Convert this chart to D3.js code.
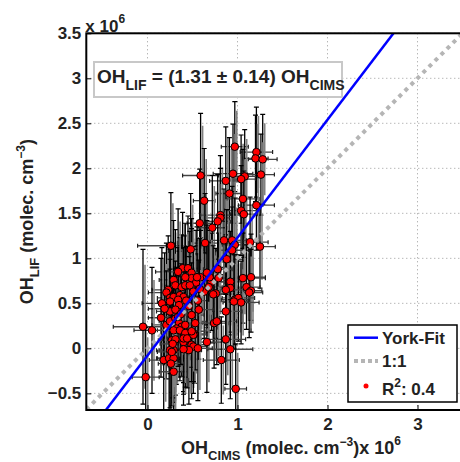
<!DOCTYPE html>
<html>
<head>
<meta charset="utf-8">
<script src="https://cdn.jsdelivr.net/npm/d3@7"></script>
<style>
body { margin: 0; background: #fff; }
text { font-family: "Liberation Sans", Arial, sans-serif; font-weight: bold; fill: #222; }
</style>
</head>
<body>
<div class="graphHolder"></div>
<script>
// OH_CIMS (x) and OH_LIF (y), units of 1e6 molec cm^-3
let ohCims = [
  0.97,1.21,1.20,1.28,0.59,0.95,1.08,1.04,0.87,1.26,
  0.63,0.91,1.06,1.21,0.58,0.81,0.81,0.78,0.72,1.04,
  1.07,0.26,0.48,0.64,0.85,0.94,0.97,0.94,1.14,1.25,
  0.88,0.39,0.45,0.49,0.29,0.49,0.54,0.59,0.66,0.79,
  0.71,1.06,1.15,0.92,0.92,1.10,1.15,1.13,0.23,0.21,
  0.31,0.38,0.42,0.47,0.63,0.76,0.25,0.29,0.36,0.40,
  0.34,0.56,0.16,0.25,0.35,0.97,1.01,1.04,0.96,0.87,
  0.25,0.31,0.34,0.42,0.55,0.69,0.78,0.66,0.73,0.68,
  0.87,0.46,0.51,0.58,0.43,0.19,0.15,0.21,0.25,0.31,
  0.35,0.38,0.32,0.40,0.29,0.52,0.74,0.77,-0.05,0.05,
  0.27,0.31,0.40,0.49,0.51,0.66,0.46,0.29,0.40,0.87,
  0.92,0.25,0.18,0.24,0.29,0.82,0.29,-0.02,0.98,0.28,
  0.36,0.42,0.34,0.42,0.40,0.44,0.27,0.26,0.51,0.37,
  0.57,0.49,0.53,0.49,0.56
];
let ohLif = [
  2.24,2.18,2.11,2.10,1.92,1.94,1.91,1.88,1.86,1.93,
  1.64,1.72,1.66,1.59,1.39,1.48,1.45,1.41,1.34,1.53,
  1.49,1.14,1.10,1.17,1.20,1.20,1.15,1.09,1.18,1.13,
  0.99,0.89,0.89,0.84,0.76,0.78,0.73,0.79,0.80,0.78,
  0.74,0.78,0.79,0.74,0.67,0.68,0.64,0.62,0.65,0.62,
  0.70,0.68,0.70,0.70,0.63,0.61,0.56,0.57,0.59,0.57,
  0.54,0.53,0.50,0.52,0.48,0.54,0.56,0.51,0.52,0.41,
  0.41,0.43,0.85,0.79,0.79,0.79,0.88,0.84,0.60,0.68,
  0.65,0.47,0.63,0.66,0.53,0.44,0.34,0.26,0.30,0.33,
  0.28,0.24,0.22,0.20,0.20,0.16,0.28,0.30,0.24,0.20,
  0.09,0.10,0.07,0.04,0.02,0.07,-0.02,-0.02,-0.01,0.10,
  -0.01,-0.02,-0.13,-0.11,-0.11,-0.13,-0.26,-0.32,-0.45,0.05,
  0.20,0.17,0.35,0.26,0.11,0.11,-0.04,-0.17,0.15,0.38,
  0.43,0.37,0.28,0.19,0.00
];
let errCims = [
  0.15,0.18,0.14,0.16,0.20,0.22,0.14,0.16,0.18,0.15,
  0.12,0.15,0.18,0.20,0.14,0.22,0.15,0.14,0.16,0.18,
  0.15,0.37,0.14,0.18,0.30,0.16,0.14,0.18,0.20,0.17,
  0.18,0.12,0.15,0.14,0.16,0.12,0.15,0.18,0.14,0.20,
  0.15,0.25,0.16,0.14,0.18,0.15,0.12,0.15,0.18,0.20,
  0.14,0.16,0.15,0.12,0.18,0.15,0.14,0.12,0.15,0.13,
  0.16,0.15,0.22,0.14,0.13,0.15,0.18,0.20,0.16,0.18,
  0.15,0.14,0.25,0.15,0.20,0.14,0.16,0.15,0.18,0.15,
  0.20,0.14,0.16,0.15,0.12,0.18,0.14,0.16,0.12,0.15,
  0.14,0.16,0.13,0.15,0.18,0.14,0.16,0.22,0.33,0.20,
  0.15,0.14,0.16,0.18,0.15,0.20,0.14,0.16,0.15,0.22,
  0.25,0.15,0.16,0.14,0.18,0.20,0.16,0.15,0.12,0.14,
  0.15,0.14,0.16,0.14,0.18,0.15,0.16,0.14,0.15,0.13,
  0.16,0.14,0.18,0.15,0.16
];
let errLif = [
  0.50,0.50,0.48,0.50,0.69,0.55,0.52,0.49,0.60,0.45,
  0.58,0.62,0.55,0.50,0.60,0.66,0.55,0.52,0.58,0.50,
  0.48,0.59,0.62,0.55,0.57,0.60,0.52,0.48,0.50,0.46,
  0.55,0.62,0.58,0.60,0.66,0.55,0.58,0.52,0.57,0.50,
  0.54,0.50,0.48,0.56,0.52,0.47,0.46,0.50,0.60,0.55,
  0.62,0.58,0.55,0.60,0.52,0.50,0.58,0.60,0.64,0.55,
  0.58,0.52,0.62,0.58,0.60,0.50,0.48,0.46,0.52,0.55,
  0.58,0.54,0.70,0.60,0.56,0.52,0.55,0.58,0.54,0.50,
  0.52,0.55,0.50,0.56,0.60,0.62,0.66,0.60,0.58,0.56,
  0.60,0.55,0.62,0.58,0.60,0.55,0.50,0.48,0.86,0.70,
  0.58,0.62,0.55,0.60,0.52,0.56,0.60,0.58,0.62,0.50,
  0.55,0.64,0.58,0.62,0.60,0.48,0.62,0.55,0.50,0.60,
  0.56,0.60,0.55,0.58,0.62,0.55,0.60,0.58,0.52,0.56,
  0.55,0.58,0.52,0.56,0.58
];

let fitSlope = 1.31, fitIntercept = -0.08;
let xTicks = [0, 1, 2, 3];
let yTicks = [-0.5, 0, 0.5, 1, 1.5, 2, 2.5, 3, 3.5];
let xDomain = [-0.68, 3.5], yDomain = [-0.685, 3.5];

let w = 460, h = 462,
  pLeft = 86.3, pRight = 462.5, pTop = 33.3, pBottom = 410;

let svg = d3.select(".graphHolder").append("svg")
  .attr("width", w).attr("height", h);

let x = d3.scaleLinear().domain(xDomain).range([pLeft, pRight]);
let y = d3.scaleLinear().domain(yDomain).range([pBottom, pTop]);

svg.append("clipPath").attr("id", "clip")
  .append("rect").attr("x", pLeft).attr("y", pTop)
  .attr("width", pRight - pLeft).attr("height", pBottom - pTop);

// dotted grid
let grid = svg.append("g").attr("stroke", "#999").attr("stroke-width", 1)
  .attr("stroke-dasharray", "1,3");
grid.selectAll(".gx").data(xTicks).enter().append("line")
  .attr("x1", d => x(d)).attr("x2", d => x(d)).attr("y1", pTop).attr("y2", pBottom);
grid.selectAll(".gy").data(yTicks).enter().append("line")
  .attr("y1", d => y(d)).attr("y2", d => y(d)).attr("x1", pLeft).attr("x2", pRight);

let plot = svg.append("g").attr("clip-path", "url(#clip)");
let pts = ohCims.map((d, i) => ({ x: d, y: ohLif[i], ex: errCims[i], ey: errLif[i] }));

// error bars
let eb = plot.append("g");
pts.forEach(p => {
  let px = x(p.x), py = y(p.y);
  let y0 = y(p.y - p.ey), y1 = y(p.y + p.ey);
  let x0 = x(p.x - p.ex), x1 = x(p.x + p.ex);
  eb.append("line").attr("x1", px + 2).attr("x2", px + 2).attr("y1", y(p.y - p.ey * 0.8)).attr("y2", y(p.y + p.ey * 0.8))
    .attr("stroke", "#808080").attr("stroke-width", 1.6);
  eb.append("line").attr("x1", x0).attr("x2", x1).attr("y1", py).attr("y2", py)
    .attr("stroke", "#444").attr("stroke-width", 1.3);
  eb.append("line").attr("x1", px).attr("x2", px).attr("y1", y0).attr("y2", y1)
    .attr("stroke", "#000").attr("stroke-width", 1.3);
  [y0, y1].forEach(c => eb.append("line").attr("x1", px - 2.5).attr("x2", px + 2.5)
    .attr("y1", c).attr("y2", c).attr("stroke", "#000").attr("stroke-width", 1.2));
  [x0, x1].forEach(c => eb.append("line").attr("x1", c).attr("x2", c)
    .attr("y1", py - 2).attr("y2", py + 2).attr("stroke", "#222").attr("stroke-width", 1.2));
});

plot.append("g").selectAll("circle").data(pts).enter().append("circle")
  .attr("cx", d => x(d.x)).attr("cy", d => y(d.y)).attr("r", 3.8)
  .attr("fill", "#ff0000").attr("stroke", "#000").attr("stroke-width", 1);

// 1:1 line
plot.append("line")
  .attr("x1", x(xDomain[0])).attr("y1", y(xDomain[0]))
  .attr("x2", x(3.6)).attr("y2", y(3.6))
  .attr("stroke", "#b5b5b5").attr("stroke-width", 4).attr("stroke-dasharray", "4,4.5");

// York fit
plot.append("line")
  .attr("x1", x(-1)).attr("y1", y(fitSlope * -1 + fitIntercept))
  .attr("x2", x(3)).attr("y2", y(fitSlope * 3 + fitIntercept))
  .attr("stroke", "#0000ff").attr("stroke-width", 2.5);

// axes
let fmt = d3.format("~g");
svg.append("g").attr("transform", "translate(0," + pBottom + ")")
  .call(d3.axisBottom(x).tickValues(xTicks).tickSize(-5).tickPadding(8).tickFormat(fmt))
  .call(g => g.select(".domain").remove())
  .call(g => g.selectAll("line").attr("stroke", "#000"))
  .call(g => g.selectAll("text").attr("font-size", 17).attr("font-family", null).style("fill", "#222"));
svg.append("g").attr("transform", "translate(" + pLeft + ",0)")
  .call(d3.axisLeft(y).tickValues(yTicks).tickSize(-5).tickPadding(5).tickFormat(fmt))
  .call(g => g.select(".domain").remove())
  .call(g => g.selectAll("line").attr("stroke", "#000"))
  .call(g => g.selectAll("text").attr("font-size", 17).attr("font-family", null).style("fill", "#222"));

svg.append("rect").attr("x", pLeft).attr("y", pTop)
  .attr("width", pRight - pLeft).attr("height", pBottom - pTop)
  .attr("fill", "none").attr("stroke", "#000").attr("stroke-width", 2);

// exponent labels
let ex1 = svg.append("text").attr("x", pLeft - 1).attr("y", 32).attr("font-size", 17);
ex1.append("tspan").text("x 10");
ex1.append("tspan").attr("dy", -9).attr("font-size", 12).text("6");

// y label
let yl = svg.append("text").attr("transform", "translate(33," + ((pTop + pBottom) / 2) + ") rotate(-90)")
  .attr("text-anchor", "middle").attr("font-size", 18);
yl.append("tspan").text("OH");
yl.append("tspan").attr("dy", 6).attr("font-size", 13).text("LIF");
yl.append("tspan").attr("dy", -6).text(" (molec. cm");
yl.append("tspan").attr("dy", -8).attr("font-size", 12).text("\u22123");
yl.append("tspan").attr("dy", 8).text(")");

// x label
let xl = svg.append("text").attr("x", 181).attr("y", 454).attr("font-size", 18);
xl.append("tspan").text("OH");
xl.append("tspan").attr("dy", 6).attr("font-size", 13).text("CIMS");
xl.append("tspan").attr("dy", -6).text(" (molec. cm");
xl.append("tspan").attr("dy", -8).attr("font-size", 12).text("\u22123");
xl.append("tspan").attr("dy", 8).text(")x 10");
xl.append("tspan").attr("dy", -9).attr("font-size", 12).text("6");

// equation box
svg.append("rect").attr("x", 94).attr("y", 62).attr("width", 248).attr("height", 35)
  .attr("fill", "#fff").attr("stroke", "#c8c8c8").attr("stroke-width", 2);
let eq = svg.append("text").attr("x", 97).attr("y", 83).attr("font-size", 19);
eq.append("tspan").text("OH");
eq.append("tspan").attr("dy", 7).attr("font-size", 14).text("LIF");
eq.append("tspan").attr("dy", -7).text(" = (1.31 \u00b1 0.14) OH");
eq.append("tspan").attr("dy", 7).attr("font-size", 14).text("CIMS");

// legend
let lg = svg.append("g");
lg.append("rect").attr("x", 348).attr("y", 325).attr("width", 109).attr("height", 77)
  .attr("fill", "#fff").attr("stroke", "#000").attr("stroke-width", 1.5);
lg.append("line").attr("x1", 354).attr("x2", 378).attr("y1", 337.7).attr("y2", 337.7)
  .attr("stroke", "#0000ff").attr("stroke-width", 2.5);
lg.append("line").attr("x1", 354).attr("x2", 378).attr("y1", 361).attr("y2", 361)
  .attr("stroke", "#b5b5b5").attr("stroke-width", 4).attr("stroke-dasharray", "4,3");
lg.append("circle").attr("cx", 366).attr("cy", 386).attr("r", 2.5).attr("fill", "#ff0000");
lg.append("text").attr("x", 382).attr("y", 343.5).attr("font-size", 17).text("York-Fit");
lg.append("text").attr("x", 382).attr("y", 367).attr("font-size", 17).text("1:1");
let r2 = lg.append("text").attr("x", 382).attr("y", 395).attr("font-size", 17);
r2.append("tspan").text("R");
r2.append("tspan").attr("dy", -8).attr("font-size", 12).text("2");
r2.append("tspan").attr("dy", 8).text(": 0.4");
</script>
</body>
</html>
